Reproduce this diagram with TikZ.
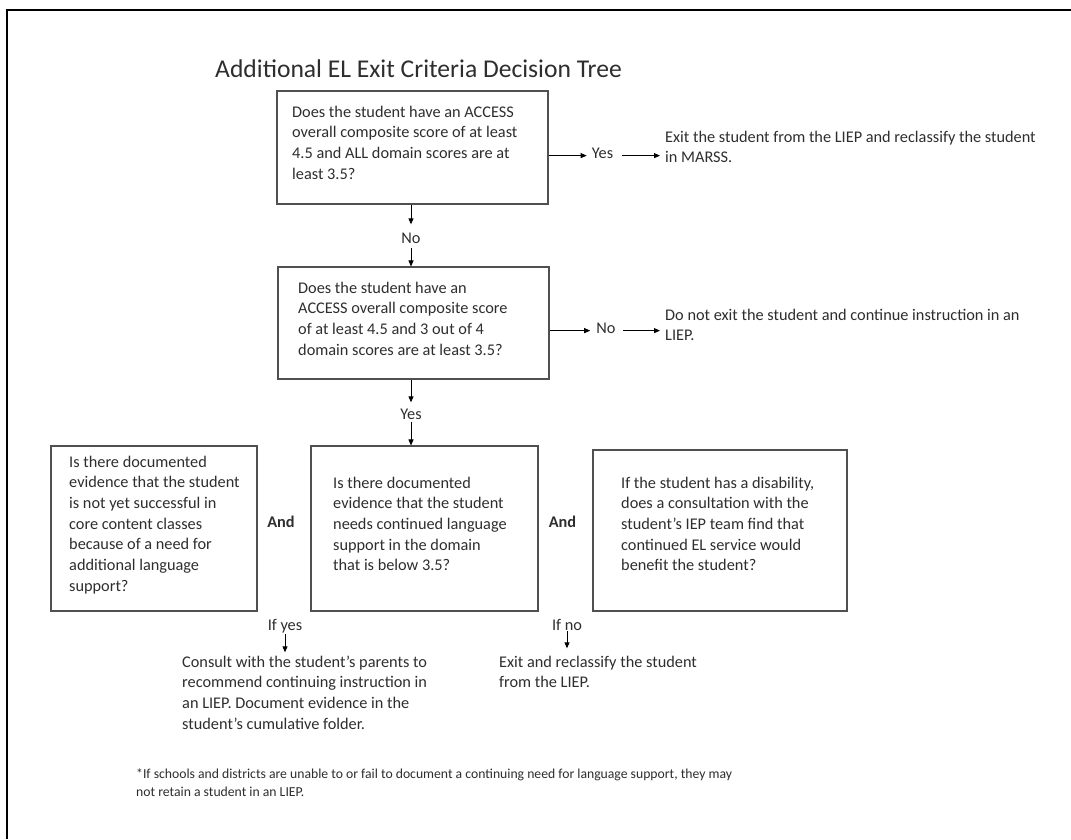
\documentclass[tikz,border=0pt]{standalone}
\usepackage{fontspec}
\setmainfont{Carlito}
\usetikzlibrary{arrows.meta}
\definecolor{txt}{HTML}{2E2E2E}
\definecolor{boxc}{HTML}{505050}
\newcommand{\ml}[1]{\begin{tabular}[t]{@{}l@{}}#1\end{tabular}}
\begin{document}
\begin{tikzpicture}[x=1pt,y=-1pt,
  box/.style={draw=boxc,line width=1.1pt,rectangle,inner sep=0},
  body/.style={font=\fontsize{16.3}{20.7}\selectfont,text=txt,inner sep=0,anchor=base west},
  lab/.style={font=\fontsize{16.3}{20.7}\selectfont,text=txt,inner sep=0,anchor=base},
  arr/.style={-{Triangle[length=6pt,width=5pt]},line width=0.9pt,black}]
\useasboundingbox (0,0) rectangle (1071,839);
\fill[white] (0,0) rectangle (1071,839);
\draw[line width=1.6pt] (7,839) -- (7,10) -- (1071,10);

\node[font=\fontsize{25.6}{30}\selectfont,text=txt,inner sep=0,anchor=base west] (title) at (215,77) {Additional EL Exit Criteria Decision Tree};

% boxes
\node[box,minimum width=271pt,minimum height=113pt] (box1) at (412.5,147.5) {};
\node[box,minimum width=271pt,minimum height=112pt] (box2) at (413.5,323) {};
\node[box,minimum width=206pt,minimum height=165pt] (boxL) at (154,528.5) {};
\node[box,minimum width=227pt,minimum height=165pt] (boxM) at (424.5,528.5) {};
\node[box,minimum width=254pt,minimum height=161pt] (boxR) at (720,530.5) {};

% box texts
\node[body] (t1) at (292,117) {\ml{Does the student have an ACCESS\\overall composite score of at least\\4.5 and ALL domain scores are at\\least 3.5?}};
\node[body] (t2) at (298,293) {\ml{Does the student have an\\ACCESS overall composite score\\of at least 4.5 and 3 out of 4\\domain scores are at least 3.5?}};
\node[body] (tL) at (69,467) {\ml{Is there documented\\evidence that the student\\is not yet successful in\\core content classes\\because of a need for\\additional language\\support?}};
\node[body] (tM) at (333,488) {\ml{Is there documented\\evidence that the student\\needs continued language\\support in the domain\\that is below 3.5?}};
\node[body] (tR) at (621,488) {\ml{If the student has a disability,\\does a consultation with the\\student’s IEP team find that\\continued EL service would\\benefit the student?}};

% outcome texts
\node[body] (exit1) at (665,142) {\ml{Exit the student from the LIEP and reclassify the student\\in MARSS.}};
\node[body] (dont) at (665,320) {\ml{Do not exit the student and continue instruction in an\\LIEP.}};
\node[body] (consult) at (182,667) {\ml{Consult with the student’s parents to\\recommend continuing instruction in\\an LIEP. Document evidence in the\\student’s cumulative folder.}};
\node[body] (exit2) at (499,667) {\ml{Exit and reclassify the student\\from the LIEP.}};

% labels
\node[lab] (yes1) at (602.5,158) {Yes};
\node[lab] (no1) at (411,243) {No};
\node[lab] (no2) at (606,333) {No};
\node[lab] (yes2) at (411,419) {Yes};
\node[lab,font=\fontsize{16.3}{20.7}\selectfont\bfseries] (and1) at (281,527) {And};
\node[lab,font=\fontsize{16.3}{20.7}\selectfont\bfseries] (and2) at (562.5,527) {And};
\node[lab] (ifyes) at (285,630) {If yes};
\node[lab] (ifno) at (567,630) {If no};

% connectors
\draw[arr,shorten >=5pt] (box1.east |- yes1.mid) -- (yes1.mid west);
\draw[arr,shorten <=9pt,shorten >=5pt] (yes1.mid east) -- (yes1.mid east -| exit1.west);
\draw[arr,shorten >=8pt] (no1 |- box1.south) -- (no1.north);
\draw[arr,shorten <=5pt] (no1.south) -- (no1.south |- box2.north);
\draw[arr,shorten >=6pt] (box2.east |- no2.mid) -- (no2.mid west);
\draw[arr,shorten <=7pt,shorten >=5pt] (no2.mid east) -- (no2.mid east -| dont.west);
\draw[arr,shorten >=6pt] (yes2 |- box2.south) -- (yes2.north);
\draw[arr,shorten <=3pt] (yes2.south) -- (yes2.south |- boxM.north);
\draw[arr,shorten <=1pt] (ifyes.south) -- (ifyes.south |- consult.north);
\draw[arr,shorten <=1pt,shorten >=4pt] (ifno.south) -- (ifno.south |- exit2.north);

% footnote
\node[body,font=\fontsize{13.7}{18}\selectfont] (foot) at (136,778) {\ml{*If schools and districts are unable to or fail to document a continuing need for language support, they may\\not retain a student in an LIEP.}};
\end{tikzpicture}
\end{document}
